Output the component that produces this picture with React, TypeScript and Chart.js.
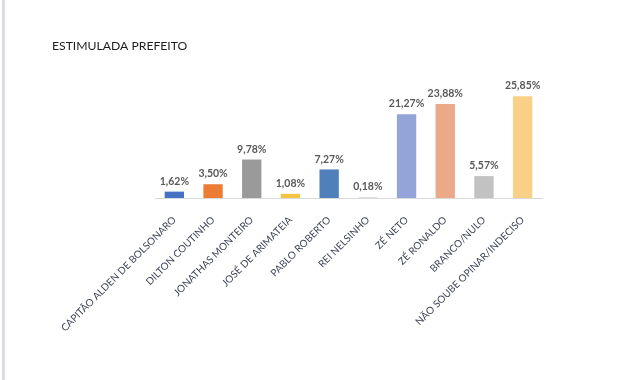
import React, { useEffect, useRef } from "react";
import { Chart, registerables } from "chart.js";

Chart.register(...registerables);

const title = "ESTIMULADA PREFEITO";
const categories = [
  "CAPITÃO ALDEN DE BOLSONARO",
  "DILTON COUTINHO",
  "JONATHAS MONTEIRO",
  "JOSÉ DE ARIMATEIA",
  "PABLO ROBERTO",
  "REI NELSINHO",
  "ZÉ NETO",
  "ZÉ RONALDO",
  "BRANCO/NULO",
  "NÃO SOUBE OPINAR/INDECISO",
];
const values = [1.62, 3.5, 9.78, 1.08, 7.27, 0.18, 21.27, 23.88, 5.57, 25.85];
const barColors = [
  "#4670c2",
  "#ec7c33",
  "#9a9a9a",
  "#f4c444",
  "#4f80ba",
  "#d4d4d4",
  "#94a4d8",
  "#eba98a",
  "#c2c2c2",
  "#f8d086",
];

const fmt = (v: number) => v.toFixed(2).replace(".", ",") + "%";

const decorPlugin = {
  id: "decor",
  beforeDraw(chart: any) {
    const ctx = chart.ctx;
    ctx.save();
    ctx.fillStyle = "#ffffff";
    ctx.fillRect(0, 0, chart.width, chart.height);
    ctx.fillStyle = "#dcdde3";
    ctx.fillRect(2, 0, 3, chart.height);
    ctx.fillStyle = "#1e1e1e";
    ctx.font = "12.2px Lato, 'Open Sans', sans-serif";
    ctx.textBaseline = "middle";
    ctx.textAlign = "left";
    ctx.fillText(title, 52, 46);
    ctx.restore();
  },
  afterDatasetsDraw(chart: any) {
    const ctx = chart.ctx;
    const meta = chart.getDatasetMeta(0);
    ctx.save();
    ctx.fillStyle = "#595959";
    ctx.font = "bold 10.5px Lato, 'Open Sans', sans-serif";
    ctx.textAlign = "center";
    ctx.textBaseline = "bottom";
    meta.data.forEach((bar: any, i: number) => {
      ctx.fillText(fmt(values[i]), bar.x, bar.y - 5);
    });
    ctx.restore();
  },
};

export default function App() {
  const ref = useRef<HTMLCanvasElement>(null);
  useEffect(() => {
    document.body.style.margin = "0";
    const chart = new Chart(ref.current!, {
      type: "bar",
      data: {
        labels: categories,
        datasets: [
          {
            data: values,
            backgroundColor: barColors,
            barPercentage: 0.5,
            categoryPercentage: 1,
          },
        ],
      },
      options: {
        animation: false,
        responsive: false,
        layout: { padding: { left: 155, right: 98, top: 80, bottom: 0 } },
        plugins: { legend: { display: false }, tooltip: { enabled: false } },
        scales: {
          x: {
            grid: { display: false },
            border: { display: true, color: "#d9d9d9" },
            ticks: {
              color: "#3e4456",
              font: { family: "Lato, 'Open Sans', sans-serif", size: 10 },
              minRotation: 45,
              maxRotation: 45,
              autoSkip: false,
              padding: 8,
            },
            afterFit: (scale: any) => {
              scale.height = 182;
              scale.paddingLeft = 0;
              scale.paddingRight = 0;
            },
          },
          y: { display: false, min: 0, max: 30 },
        },
      },
      plugins: [decorPlugin],
    });
    return () => chart.destroy();
  }, []);
  return (
    <div style={{ position: "fixed", left: 0, top: 0, width: 640, height: 380 }}>
      <canvas ref={ref} width={640} height={380} />
    </div>
  );
}
